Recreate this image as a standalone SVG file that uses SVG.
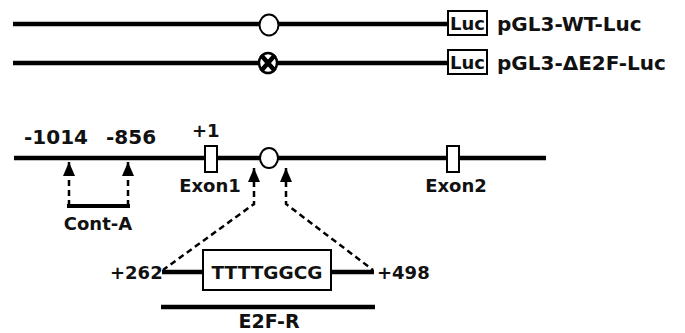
<svg xmlns="http://www.w3.org/2000/svg" width="685" height="333" viewBox="0 0 685 333">
<defs>
<style>
.t{font-family:"DejaVu Sans","Liberation Sans",sans-serif;font-weight:bold;fill:#111}
.ln{stroke:#000;stroke-width:4.5;fill:none}
.box{stroke:#000;stroke-width:2;fill:#fff}
.ds{stroke:#000;stroke-width:2.5;fill:none;stroke-dasharray:6 4}
.ar{stroke:#000;stroke-width:2.5;marker-end:url(#ah)}
</style>
<marker id="ah" viewBox="0 0 14 12" refX="14" refY="6" markerWidth="14" markerHeight="12" markerUnits="userSpaceOnUse" orient="auto">
<path d="M0 0 L14 6 L0 12 Z" fill="#000"/>
</marker>
</defs>
<rect width="685" height="333" fill="#fff"/>
<g id="connectors">
<line class="ln" x1="13" y1="24" x2="447" y2="24"/>
<line class="ln" x1="13" y1="63" x2="447" y2="63"/>
<line class="ln" x1="14" y1="158" x2="546" y2="158"/>
<path class="ds" d="M69 206 V175"/>
<path class="ds" d="M128 206 V175"/>
<line class="ar" x1="69" y1="176" x2="69" y2="162"/>
<line class="ar" x1="128" y1="176" x2="128" y2="162"/>
<line x1="67" y1="206" x2="130" y2="206" stroke="#000" stroke-width="4"/>
<path class="ds" d="M254 181 V204 L163 270"/>
<path class="ds" d="M286 181 V204 L373 270"/>
<line class="ar" x1="254" y1="182" x2="254" y2="168"/>
<line class="ar" x1="286" y1="182" x2="286" y2="168"/>
<line class="ln" x1="162" y1="272" x2="203" y2="272"/>
<line class="ln" x1="331" y1="272" x2="374" y2="272"/>
<line x1="161" y1="307" x2="375" y2="307" stroke="#000" stroke-width="4.5"/>
</g>
<g id="wt">
<ellipse cx="269" cy="25" rx="9.5" ry="10.5" fill="#fff" stroke="#000" stroke-width="2"/>
<rect class="box" x="448" y="11" width="39" height="24"/>
<text class="t" x="467.5" y="30" font-size="18" text-anchor="middle">Luc</text>
<text class="t" x="497" y="31" font-size="20">pGL3-WT-Luc</text>
</g>
<g id="de2f">
<ellipse cx="268" cy="63" rx="9" ry="10" fill="#fff" stroke="#000" stroke-width="2.5"/>
<path d="M261 55 L275 71 M275 55 L261 71" stroke="#000" stroke-width="4.5"/>
<rect class="box" x="448" y="50" width="39" height="24"/>
<text class="t" x="467.5" y="69" font-size="18" text-anchor="middle">Luc</text>
<text class="t" x="497" y="70" font-size="20">pGL3-ΔE2F-Luc</text>
</g>
<g id="gene">
<rect class="box" x="205" y="146" width="12" height="26"/>
<ellipse cx="269" cy="158" rx="9" ry="10" fill="#fff" stroke="#000" stroke-width="2"/>
<rect class="box" x="447" y="146" width="12" height="26"/>
<text class="t" x="24" y="144" font-size="20">-1014</text>
<text class="t" x="106" y="144" font-size="20">-856</text>
<text class="t" x="192" y="137" font-size="18">+1</text>
<text class="t" x="210" y="192" font-size="18" text-anchor="middle">Exon1</text>
<text class="t" x="456" y="192" font-size="18" text-anchor="middle">Exon2</text>
</g>
<g id="contA">
<text class="t" x="98" y="230" font-size="18" text-anchor="middle">Cont-A</text>
</g>
<g id="e2f">
<rect class="box" x="203" y="250" width="128" height="40"/>
<text class="t" x="267" y="279" font-size="18.5" text-anchor="middle">TTTTGGCG</text>
<text class="t" x="110" y="279" font-size="18">+262</text>
<text class="t" x="377" y="279" font-size="18">+498</text>
<text class="t" x="269" y="328" font-size="19" text-anchor="middle">E2F-R</text>
</g>
</svg>
